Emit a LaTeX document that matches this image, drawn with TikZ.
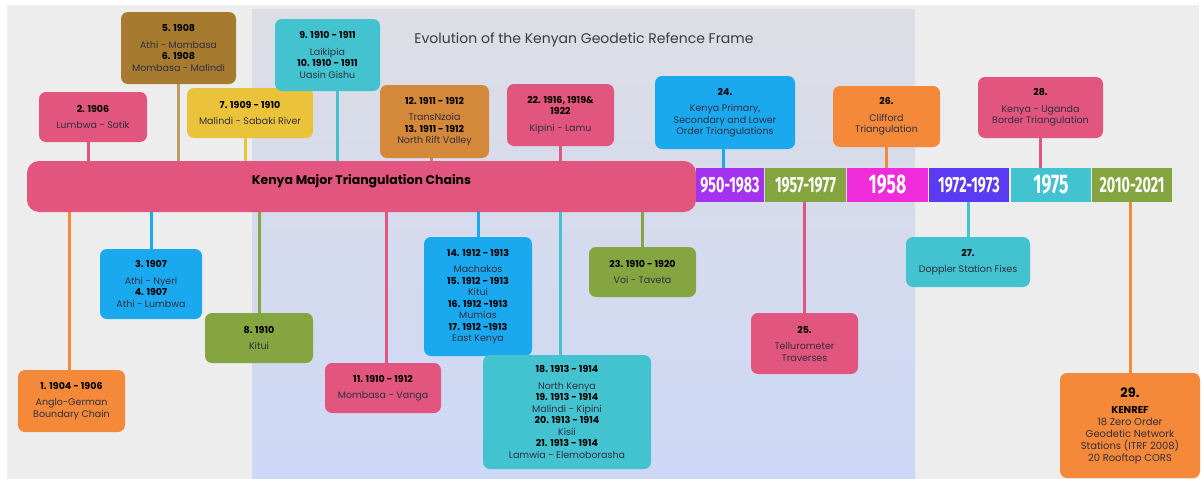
\documentclass[tikz,border=0pt]{standalone}
\usepackage{fontspec}
\setmainfont{Poppins}
\newfontfamily\yearfont[FakeStretch=0.65]{Fira Sans}
\usetikzlibrary{positioning,calc}

\definecolor{cbg}{HTML}{EDEDED}
\definecolor{cpaneltop}{HTML}{DDDEE5}
\definecolor{cpanelbot}{HTML}{CDD8F6}
\definecolor{cpink}{HTML}{E2557E}
\definecolor{corange}{HTML}{F5893A}
\definecolor{cblue}{HTML}{1AA8EF}
\definecolor{cgreen}{HTML}{84A540}
\definecolor{ccyan}{HTML}{43C2CF}
\definecolor{cbrown}{HTML}{A67B2F}
\definecolor{cyellow}{HTML}{EBC33B}
\definecolor{ctan}{HTML}{D4883A}
\definecolor{cpurple}{HTML}{A433F0}
\definecolor{cmagenta}{HTML}{EF2BDA}
\definecolor{cviolet}{HTML}{5B3BF2}
\definecolor{ctext}{HTML}{2F2F3F}
\definecolor{ctitle}{HTML}{3A3A3A}

\newcommand{\cardhead}[1]{{\bfseries\color{black}#1}}

\tikzset{
    card/.style={rounded corners=7pt, align=center, inner sep=2pt, text=ctext,
        font=\fontsize{9.5}{11.5}\selectfont},
    stem/.style={line width=3pt},
    seg/.style={minimum height=34pt, inner sep=0pt, text=white,
        font=\yearfont\bfseries\fontsize{22}{22}\selectfont},
    bigseg/.style={seg, font=\yearfont\bfseries\fontsize{27}{27}\selectfont},
}

\begin{document}
\begin{tikzpicture}[x=1pt,y=-1pt]
    \useasboundingbox (0,0) rectangle (1203,479);
    \fill[cbg] (7,5) rectangle (1199,479);
    \shade[top color=cpaneltop, bottom color=cpanelbot] (252,9) rectangle (915,479);

    \node[text=ctitle, font=\fontsize{14}{16}\selectfont] (title) at (584,40)
        {Evolution of the Kenyan Geodetic Refence Frame};

    % main bar and time line
    \node[fill=cpink, rounded corners=12pt, minimum width=669pt, minimum height=51pt,
        text height=9pt, text depth=13pt, font=\bfseries\fontsize{12.5}{14}\selectfont]
        (bar) at (361.5,186.5) {Kenya Major Triangulation Chains};
    \node[seg, fill=cpurple, minimum width=68pt] (t1) at (730,185) {950-1983};
    \node[seg, fill=cgreen, minimum width=81pt] (t2) at (805.5,185) {1957-1977};
    \node[bigseg, fill=cmagenta, minimum width=81pt] (t3) at (887.5,185) {1958};
    \node[seg, fill=cviolet, minimum width=80pt] (t4) at (969,185) {1972-1973};
    \node[bigseg, fill=ccyan, minimum width=80pt] (t5) at (1051,185) {1975};
    \node[seg, fill=cgreen, minimum width=80pt] (t6) at (1132,185) {2010-2021};

    % cards above
    \node[card, fill=cbrown, minimum width=115pt, minimum height=72pt] (b5) at (178.5,48)
        {\cardhead{5. 1908}\\[5pt] Athi - Mombasa\\ \cardhead{6. 1908}\\ Mombasa - Malindi};
    \node[card, fill=cpink, minimum width=108pt, minimum height=50pt] (b2) at (93,117)
        {\cardhead{2. 1906}\\[5pt] Lumbwa - Sotik};
    \node[card, fill=cyellow, minimum width=126pt, minimum height=50pt] (b7) at (250,113)
        {\cardhead{7. 1909 - 1910}\\[5pt] Malindi - Sabaki River};
    \node[card, fill=ccyan, minimum width=105pt, minimum height=72pt] (b9) at (327.5,55)
        {\cardhead{9. 1910 - 1911}\\[5pt] Laikipia\\ \cardhead{10. 1910 - 1911}\\ Uasin Gishu};
    \node[card, fill=ctan, minimum width=109pt, minimum height=73pt] (b12) at (434.5,121.5)
        {\cardhead{12. 1911 - 1912}\\[5pt] TransNzoia\\ \cardhead{13. 1911 - 1912}\\ North Rift Valley};
    \node[card, fill=cpink, minimum width=107pt, minimum height=62pt] (b22) at (560.5,115)
        {\cardhead{22. 1916, 1919\&}\\ \cardhead{1922}\\[5pt] Kipini - Lamu};
    \node[card, fill=cblue, minimum width=140pt, minimum height=73pt] (b24) at (725,112.5)
        {\cardhead{24.}\\[5pt] Kenya Primary,\\ Secondary and Lower\\ Order Triangulations};
    \node[card, fill=corange, minimum width=107pt, minimum height=61pt] (b26) at (886.5,116.5)
        {\cardhead{26.}\\[5pt] Clifford\\ Triangulation};
    \node[card, fill=cpink, minimum width=125pt, minimum height=61pt] (b28) at (1040.5,107.5)
        {\cardhead{28.}\\[5pt] Kenya - Uganda\\ Border Triangulation};

    % cards below
    \node[card, fill=corange, minimum width=107pt, minimum height=62pt] (b1) at (71.5,401)
        {\cardhead{1. 1904 - 1906}\\[5pt] Anglo-German\\ Boundary Chain};
    \node[card, fill=cblue, minimum width=102pt, minimum height=70pt] (b3) at (151,284)
        {\cardhead{3. 1907}\\[5pt] Athi - Nyeri\\ \cardhead{4. 1907}\\ Athi - Lumbwa};
    \node[card, fill=cgreen, minimum width=108pt, minimum height=50pt] (b8) at (259,338)
        {\cardhead{8. 1910}\\[5pt] Kitui};
    \node[card, fill=cpink, minimum width=116pt, minimum height=50pt] (b11) at (383,388)
        {\cardhead{11. 1910 - 1912}\\[5pt] Mombasa - Vanga};
    \node[card, fill=cblue, minimum width=108pt, minimum height=119pt] (b14) at (478,296.5)
        {\cardhead{14. 1912 - 1913}\\[5pt] Machakos\\ \cardhead{15. 1912 - 1913}\\ Kitui\\
         \cardhead{16. 1912 -1913}\\ Mumias\\ \cardhead{17. 1912 -1913}\\ East Kenya};
    \node[card, fill=ccyan, minimum width=168pt, minimum height=114pt] (b18) at (567,412)
        {\cardhead{18. 1913 - 1914}\\[5pt] North Kenya\\ \cardhead{19. 1913 - 1914}\\ Malindi - Kipini\\
         \cardhead{20. 1913 - 1914}\\ Kisii\\ \cardhead{21. 1913 - 1914}\\ Lamwia - Elemoborasha};
    \node[card, fill=cgreen, minimum width=107pt, minimum height=50pt] (b23) at (642.5,272)
        {\cardhead{23. 1910 - 1920}\\[5pt] Voi - Taveta};
    \node[card, fill=cpink, minimum width=107pt, minimum height=61pt] (b25) at (804.5,343.5)
        {\cardhead{25.}\\[5pt] Tellurometer\\ Traverses};
    \node[card, fill=ccyan, minimum width=124pt, minimum height=50pt] (b27) at (968,262)
        {\cardhead{27.}\\[5pt] Doppler Station Fixes};
    \node[card, fill=corange, minimum width=140pt, minimum height=105pt,
        font=\fontsize{10}{12}\selectfont] (b29) at (1130,425.5)
        {{\fontsize{13}{15}\selectfont\cardhead{29.}}\\[4pt] \cardhead{KENREF}\\ 18 Zero Order\\
         Geodetic Network\\ Stations (ITRF 2008)\\ 20 Rooftop CORS};

    % stems
    \draw[stem, cbrown!75!white] (b5.south) -- (b5.south |- bar.north);
    \draw[stem, cpink] ([xshift=-5pt]b2.south) -- ([xshift=-5pt]b2.south |- bar.north);
    \draw[stem, cyellow] ([xshift=-5pt]b7.south) -- ([xshift=-5pt]b7.south |- bar.north);
    \draw[stem, ccyan] ([xshift=10pt]b9.south) -- ([xshift=10pt]b9.south |- bar.north);
    \draw[stem, ctan] ([xshift=-3pt]b12.south) -- ([xshift=-3pt]b12.south |- bar.north);
    \draw[stem, cpink] (b22.south) -- (b22.south |- bar.north);
    \draw[stem, cblue] ([xshift=-2pt]b24.south) -- ([xshift=-2pt]b24.south |- t1.north);
    \draw[stem, corange] (b26.south) -- (b26.south |- t3.north);
    \draw[stem, cpink] (b28.south) -- (b28.south |- t5.north);

    \draw[stem, corange] ([xshift=-2.5pt]b1.north) -- ([xshift=-2.5pt]b1.north |- bar.south);
    \draw[stem, cblue] (b3.north) -- (b3.north |- bar.south);
    \draw[stem, cgreen] (b8.north) -- (b8.north |- bar.south);
    \draw[stem, cpink] ([xshift=3pt]b11.north) -- ([xshift=3pt]b11.north |- bar.south);
    \draw[stem, cblue] (b14.north) -- (b14.north |- bar.south);
    \draw[stem, ccyan] ([xshift=-7pt]b18.north) -- ([xshift=-7pt]b18.north |- bar.south);
    \draw[stem, cgreen] (b23.north) -- (b23.north |- bar.south);
    \draw[stem, cpink] (b25.north) -- (b25.north |- t2.south);
    \draw[stem, ccyan] (b27.north) -- (b27.north |- t4.south);
    \draw[stem, corange] (b29.north) -- (b29.north |- t6.south);
\end{tikzpicture}
\end{document}
